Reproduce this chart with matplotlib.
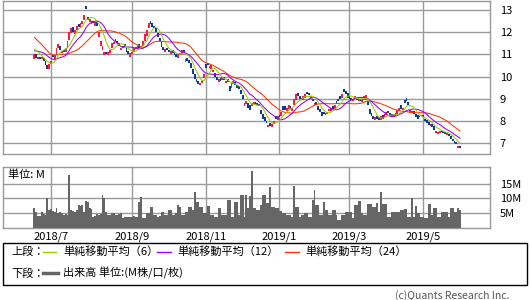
import numpy as np
import pandas as pd
import matplotlib
matplotlib.use("Agg")
import matplotlib.pyplot as plt
from matplotlib.lines import Line2D
from matplotlib.patches import Rectangle

plt.rcParams['font.family'] = ['Noto Sans CJK JP', 'DejaVu Sans']

# closes before the first shown day, only needed so the moving averages start right
pre_close = [12.9, 12.8, 12.85, 12.7, 12.75, 12.8, 12.6, 12.7, 12.65, 11.4, 11.2, 11.1,
             11.0, 11.05, 11.1, 11.0, 11.15, 11.2, 11.25, 11.3, 11.35, 11.3, 11.25]

close = [11.0, 10.85, 10.9, 10.8, 10.85, 10.7, 10.5, 10.35, 10.55, 10.7,
         10.9, 10.95, 11.3, 11.45, 11.2, 11.15, 11.1, 11.3, 11.6, 12.0,
         12.2, 12.0, 12.1, 12.3, 12.25, 12.4, 12.5, 12.8, 13.05, 12.55,
         12.6, 12.5, 12.4, 12.45, 12.3, 12.0, 11.6, 11.4, 11.1, 11.0,
         11.1, 11.2, 11.5, 11.55, 11.6, 11.5, 11.4, 11.3, 11.4, 11.35,
         11.1, 11.0, 11.05, 11.1, 11.3, 11.35, 11.4, 11.3, 11.4, 11.6,
         11.9, 12.1, 12.4, 12.35, 12.25, 12.2, 12.0, 11.8, 11.6, 11.35,
         11.2, 11.25, 11.2, 11.1, 11.15, 11.05, 10.95, 10.9, 11.0, 11.05,
         11.2, 11.1, 10.8, 10.7, 10.6, 10.4, 10.1, 9.9, 9.75, 9.65,
         9.7, 9.8, 10.1, 10.4, 10.5, 10.45, 10.5, 10.3, 10.0, 9.85,
         9.9, 9.8, 10.0, 9.85, 9.8, 9.75, 9.35, 9.7, 9.8, 9.6,
         9.5, 9.45, 9.2, 9.0, 8.8, 8.9, 8.6, 8.5, 8.8, 8.85,
         8.75, 8.7, 8.65, 8.3, 8.1, 8.0, 7.9, 7.8, 7.75, 7.85,
         8.0, 8.1, 8.2, 8.15, 8.4, 8.5, 8.5, 8.6, 8.7, 8.55,
         8.6, 9.0, 9.2, 9.1, 9.0, 8.95, 9.1, 9.2, 9.2, 9.15,
         9.1, 8.9, 8.8, 8.7, 8.5, 8.4, 8.2, 8.3, 8.35, 8.4,
         8.5, 8.6, 8.55, 8.7, 8.8, 8.9, 9.0, 9.2, 9.3, 9.2,
         9.05, 9.0, 8.95, 9.0, 9.1, 8.95, 9.0, 8.9, 9.0, 9.1,
         9.15, 8.7, 8.3, 8.2, 8.1, 8.15, 8.1, 8.05, 8.2, 8.1,
         8.3, 8.4, 8.35, 8.2, 8.15, 8.3, 8.2, 8.5, 8.6, 8.55,
         8.6, 8.8, 8.9, 8.7, 8.5, 8.45, 8.3, 8.15, 8.1, 8.15,
         8.2, 8.15, 8.0, 7.9, 7.8, 7.85, 7.7, 7.6, 7.55, 7.5,
         7.55, 7.5, 7.45, 7.4, 7.45, 7.3, 7.2, 7.1, 7.0, 6.95,
         6.85, 6.75]

open_ = [10.8, 11.0, 10.8, 10.9, 10.8, 10.85, 10.7, 10.5, 10.35, 10.55,
         10.95, 10.75, 11.0, 11.3, 11.4, 11.05, 11.2, 11.1, 11.3, 11.65,
         11.95, 12.25, 11.9, 12.1, 12.35, 12.2, 12.35, 12.55, 13.2, 12.7,
         12.45, 12.35, 12.5, 12.3, 12.5, 11.8, 11.4, 11.2, 10.95, 11.1,
         10.95, 11.05, 11.3, 11.45, 11.7, 11.6, 11.5, 11.2, 11.3, 11.45,
         11.3, 11.15, 10.9, 11.0, 11.1, 11.25, 11.3, 11.45, 11.25, 11.4,
         11.6, 11.85, 12.2, 12.5, 12.4, 12.3, 12.2, 11.95, 11.75, 11.55,
         11.35, 11.1, 11.3, 11.2, 11.0, 11.2, 11.1, 11.0, 10.85, 10.95,
         11.0, 11.2, 10.65, 10.85, 10.75, 10.6, 10.35, 10.1, 9.9, 9.8,
         9.6, 9.7, 9.95, 10.55, 10.6, 10.4, 10.35, 10.2, 10.15, 10.0,
         9.75, 9.95, 9.85, 10.0, 9.7, 9.9, 9.55, 9.5, 9.65, 9.75,
         9.6, 9.55, 9.4, 9.15, 8.65, 8.75, 8.8, 8.7, 8.65, 8.75,
         8.85, 8.8, 8.75, 8.5, 8.3, 8.15, 8.0, 7.7, 7.9, 7.7,
         7.85, 8.2, 8.05, 8.25, 8.2, 8.65, 8.65, 8.45, 8.55, 8.65,
         8.45, 8.7, 8.95, 9.25, 9.1, 9.05, 8.95, 9.05, 9.3, 9.25,
         9.05, 9.0, 8.7, 8.85, 8.65, 8.55, 8.4, 8.35, 8.25, 8.3,
         8.45, 8.45, 8.65, 8.55, 8.9, 9.0, 9.1, 9.05, 9.45, 9.35,
         9.25, 9.1, 9.05, 8.9, 9.0, 9.05, 8.9, 9.0, 8.85, 8.95,
         8.95, 8.9, 8.55, 8.35, 8.2, 8.05, 8.2, 8.15, 8.05, 8.25,
         8.15, 8.25, 8.45, 8.35, 8.3, 8.15, 8.35, 8.3, 8.45, 8.7,
         8.5, 8.95, 9.05, 8.85, 8.4, 8.35, 8.45, 8.3, 8.25, 8.2,
         8.25, 8.25, 8.1, 8.05, 7.95, 7.75, 7.85, 7.75, 7.45, 7.4,
         7.45, 7.6, 7.55, 7.5, 7.35, 7.4, 7.3, 7.2, 7.1, 7.05,
         6.75, 6.85]

# volume in millions
volume = [6.6, 5.4, 3.8, 4.0, 5.4, 4.5, 4.3, 10.0, 6.0, 6.2,
          5.5, 5.3, 6.8, 5.0, 5.2, 4.8, 4.3, 4.5, 4.3, 17.9,
          6.0, 5.8, 5.4, 6.0, 7.7, 7.5, 7.6, 5.4, 9.0, 8.6,
          6.6, 6.5, 3.7, 4.0, 4.5, 4.4, 4.6, 11.3, 10.0, 5.4,
          4.3, 4.3, 4.9, 4.8, 4.3, 4.2, 4.5, 4.9, 3.2, 3.5,
          3.7, 3.7, 3.7, 3.6, 3.8, 3.6, 3.7, 8.8, 10.5, 3.2,
          3.2, 4.9, 4.9, 7.1, 7.1, 4.3, 4.2, 3.7, 3.8, 5.4,
          5.4, 4.3, 4.3, 6.0, 6.0, 4.3, 4.2, 4.9, 7.7, 7.0,
          4.3, 4.3, 5.4, 5.4, 7.1, 7.1, 6.0, 12.2, 8.8, 8.8,
          7.1, 7.0, 4.9, 4.9, 7.3, 7.3, 4.3, 4.2, 3.7, 3.7,
          6.6, 6.6, 4.3, 4.3, 4.3, 9.4, 9.4, 3.7, 3.7, 8.8,
          8.8, 4.3, 11.3, 11.3, 3.7, 11.3, 6.6, 10.9, 19.3, 6.6,
          6.6, 6.0, 6.0, 7.7, 11.1, 11.1, 8.3, 8.3, 13.9, 7.1,
          7.1, 6.6, 6.6, 5.7, 5.7, 4.9, 4.9, 4.3, 4.3, 4.3,
          3.7, 14.2, 7.1, 7.1, 3.7, 4.3, 4.3, 4.9, 4.9, 3.7,
          3.7, 9.4, 12.8, 7.7, 7.7, 4.3, 4.3, 8.8, 6.0, 6.0,
          4.3, 4.3, 6.0, 6.0, 4.3, 2.6, 2.6, 4.3, 4.3, 5.4,
          5.4, 5.4, 5.4, 3.2, 7.7, 7.7, 9.1, 9.1, 4.9, 4.3,
          4.3, 7.9, 7.9, 7.9, 7.1, 7.1, 8.3, 5.4, 12.2, 7.9,
          7.9, 7.9, 3.7, 3.7, 5.4, 5.4, 5.2, 5.4, 5.4, 6.0,
          6.0, 6.3, 6.3, 3.7, 3.7, 10.0, 3.7, 7.5, 4.9, 4.9,
          3.7, 3.7, 3.2, 3.2, 7.9, 7.9, 4.3, 6.6, 6.6, 3.7,
          3.7, 5.4, 5.4, 5.4, 5.4, 3.7, 6.8, 6.8, 5.4, 5.4,
          6.8, 6.1]

tick_pos = [9, 53, 93, 133, 171, 211]
tick_labels = ['2018/7', '2018/9', '2018/11', '2019/1', '2019/3', '2019/5']
price_ticks = [7, 8, 9, 10, 11, 12, 13]
vol_ticks = [5, 10, 15]
vol_labels = ['5M', '10M', '15M']

up_col = '#ff1744'
down_col = '#0a3a9a'
grid_col = '#9a9a9a'
ma_cols = {6: '#99cc00', 12: '#9900ff', 24: '#ff3300'}

n = len(close)
x = np.arange(n)
o = np.array(open_)
c = np.array(close)
allc = pd.Series(pre_close + close)
npre = len(pre_close)

fig = plt.figure(figsize=(5.3, 3.0), dpi=100)
W, H = 530.0, 300.0
xl = (-17.05, 247.3)

ax1 = fig.add_axes([3 / W, 1 - 154 / H, 487 / W, 153 / H])
ax2 = fig.add_axes([3 / W, 1 - 227.5 / H, 487 / W, 61 / H])

for ax in (ax1, ax2):
    ax.set_xlim(*xl)
    for s in ax.spines.values():
        s.set_color(grid_col)
        s.set_linewidth(1.0)
    ax.set_xticks(tick_pos)
    ax.grid(True, color=grid_col, linewidth=1.0)
    ax.set_axisbelow(True)
    ax.yaxis.tick_right()
    ax.tick_params(length=0, labelsize=8, pad=7)

# candles
up = c >= o
bot = np.minimum(o, c)
hgt = np.maximum(np.abs(c - o), 0.08)
ax1.bar(x, hgt, bottom=bot, width=1.0, color=np.where(up, up_col, down_col), linewidth=0, zorder=3)

# moving averages
for w in (24, 12, 6):
    ma = allc.rolling(w).mean().values[npre:]
    ax1.plot(x, ma, color=ma_cols[w], linewidth=0.75, zorder=4)

ax1.set_ylim(6.5, 13.41)
ax1.set_yticks(price_ticks)
ax1.set_yticklabels([str(t) for t in price_ticks])
ax1.set_xticklabels([])

ax2.bar(x, volume, width=1.0, color='#666666', linewidth=0, zorder=3)
ax2.set_ylim(0, 20.9)
ax2.set_yticks(vol_ticks)
ax2.set_yticklabels(vol_labels)
ax2.set_xticklabels(tick_labels)
ax2.tick_params(axis='x', pad=3)
ax2.text(0.01, 0.86, '単位: M', transform=ax2.transAxes, fontsize=8, va='center', ha='left')


def fx(px):
    return px / W


def fy(py):
    return 1 - py / H


# legend box
fig.patches.append(Rectangle((fx(3), fy(284.5)), fx(524), 41.5 / H, transform=fig.transFigure,
                             fill=False, edgecolor='black', linewidth=1.0))
r1, r2 = 251.7, 273.3
fig.text(fx(11), fy(r1), '上段：', fontsize=8, va='center')
fig.text(fx(11), fy(r2), '下段：', fontsize=8, va='center')
leg = [(43, 56, 63, 6), (157, 171, 177, 12), (285, 299, 305, 24)]
for x0, x1, tx, w in leg:
    fig.lines.append(Line2D([fx(x0), fx(x1)], [fy(r1), fy(r1)], transform=fig.transFigure,
                            color=ma_cols[w], linewidth=1.0))
    fig.text(fx(tx), fy(r1), '単純移動平均（%d）' % w, fontsize=8, va='center')
fig.lines.append(Line2D([fx(43), fx(58)], [fy(r2), fy(r2)], transform=fig.transFigure,
                        color='#666666', linewidth=2.5))
fig.text(fx(63), fy(r2), '出来高 単位:(M株/口/枚)', fontsize=8, va='center')

fig.text(fx(509), fy(296), '(c)Quants Research Inc.', fontsize=7.5, color='#555555',
         ha='right', va='center')

fig.savefig('out.png', dpi=100)
